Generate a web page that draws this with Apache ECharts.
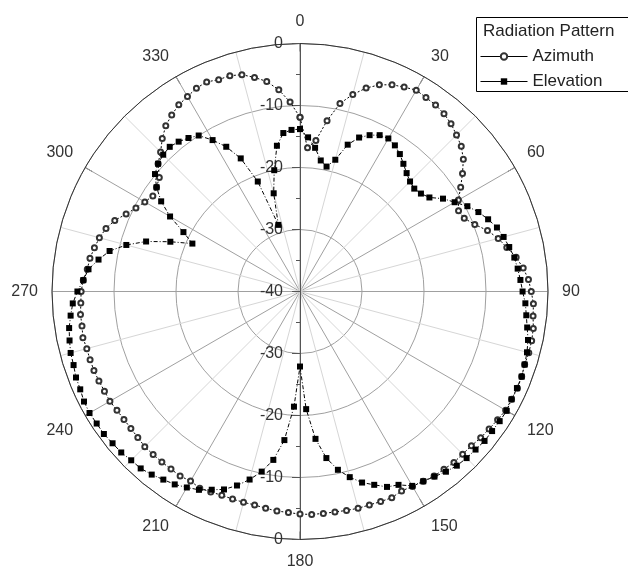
<!DOCTYPE html>
<html><head><meta charset="utf-8">
<script src="https://cdn.jsdelivr.net/npm/echarts/dist/echarts.min.js"></script>
<style>html,body{margin:0;padding:0;background:#fff}#c{width:628px;height:570px}</style>
</head><body><div id="c"></div>
<script>
// Angles (degrees) at which the pattern was sampled
const angles = [
  0,3,6,9,12,15,18,21,24,27,
  30,33,36,39,42,45,48,51,54,57,
  60,63,66,69,72,75,78,81,84,87,
  90,93,96,99,102,105,108,111,114,117,
  120,123,126,129,132,135,138,141,144,147,
  150,153,156,159,162,165,168,171,174,177,
  180,183,186,189,192,195,198,201,204,207,
  210,213,216,219,222,225,228,231,234,237,
  240,243,246,249,252,255,258,261,264,267,
  270,273,276,279,282,285,288,291,294,297,
  300,303,306,309,312,315,318,321,324,327,
  330,333,336,339,342,345,348,351,354,357
];
// Azimuth pattern (dB)
const azimuth = [
  -11.9,-16.8,-15.5,-12.1,-9.0,-7.1,-5.5,-4.3,-3.5,-3.0,
  -2.5,-2.7,-2.8,-3.1,-3.6,-4.3,-5.0,-6.1,-7.6,-9.1,
  -10.5,-11.3,-11.0,-9.8,-8.2,-6.9,-5.9,-4.7,-3.8,-3.1,
  -2.7,-2.3,-2.2,-1.9,-1.8,-1.8,-1.9,-1.7,-1.6,-1.7,
  -1.7,-2.0,-2.3,-2.5,-2.8,-2.9,-2.9,-3.1,-3.2,-3.5,
  -3.7,-3.9,-3.6,-3.7,-3.8,-3.8,-3.9,-4.0,-4.0,-4.0,
  -4.1,-4.3,-4.4,-4.6,-4.8,-4.8,-4.8,-4.8,-4.6,-4.4,
  -4.7,-4.5,-4.6,-4.6,-4.6,-4.6,-4.8,-4.9,-4.9,-4.8,
  -4.6,-4.6,-4.5,-4.4,-4.4,-4.4,-4.2,-4.4,-4.4,-4.6,
  -4.7,-5.0,-5.5,-5.7,-6.1,-6.5,-7.1,-8.0,-9.3,-10.3,
  -11.1,-11.7,-11.4,-10.8,-9.2,-8.2,-6.8,-5.6,-4.8,-4.1,
  -3.7,-3.2,-3.0,-3.4,-3.4,-3.8,-4.7,-5.7,-7.3,-9.4
];
// Elevation pattern (dB)
const elevation = [
  -13.8,-15.1,-16.7,-18.6,-19.4,-18.0,-15.1,-13.4,-12.4,-11.7,
  -11.5,-11.9,-12.6,-13.5,-14.3,-14.9,-15.2,-14.9,-14.2,-12.5,
  -11.2,-9.7,-8.5,-7.5,-6.6,-6.0,-5.5,-5.0,-4.7,-4.4,
  -4.1,-3.6,-3.3,-2.9,-2.4,-2.1,-1.9,-1.7,-1.7,-1.7,
  -1.5,-1.6,-1.7,-1.7,-1.9,-2.0,-2.2,-2.6,-3.1,-3.5,
  -3.8,-5.0,-5.5,-6.6,-7.6,-9.0,-10.6,-12.8,-16.1,-21.0,
  -27.9,-21.4,-15.9,-12.5,-10.3,-8.6,-7.1,-5.8,-5.0,-4.1,
  -3.5,-2.9,-2.5,-2.0,-1.6,-1.5,-1.2,-1.1,-0.9,-0.9,
  -0.8,-0.9,-1.2,-1.3,-1.6,-1.7,-2.0,-2.3,-2.8,-3.3,
  -4.1,-5.0,-5.7,-7.1,-8.6,-11.0,-13.9,-17.6,-21.0,-18.9,
  -15.8,-13.3,-11.4,-9.9,-9.2,-8.8,-8.6,-8.9,-9.4,-10.0,
  -11.8,-13.8,-16.5,-21.0,-28.7,-23.6,-20.0,-16.2,-14.3,-13.9
];
const seriesNames = ['Azimuth', 'Elevation'];
const legendTitle = 'Radiation Pattern';

function toPairs(vals) {
  const d = vals.map((v, i) => [v, angles[i]]);
  d.push([vals[0], 360]); // close the loop
  return d;
}

const FONT = 'Liberation Sans, Arial, sans-serif';
const center = [300, 291.5];
const R = 248;
const chart = echarts.init(document.getElementById('c'));
chart.setOption({
  animation: false,
  backgroundColor: '#fff',
  textStyle: { fontFamily: FONT },
  polar: [{ center: center, radius: R }, { center: center, radius: R }],
  angleAxis: [{
    polarIndex: 0, type: 'value', min: 0, max: 360, interval: 30,
    startAngle: 90, clockwise: true,
    axisLine: { show: true, lineStyle: { color: '#333', width: 1 } },
    axisTick: { show: true, inside: true, length: 8, lineStyle: { color: '#333' } },
    axisLabel: { margin: 14, fontSize: 16, color: '#333', fontFamily: FONT },
    splitLine: { show: true, lineStyle: { color: '#a0a0a0', width: 1 } },
    minorTick: { show: false, splitNumber: 2 },
    minorSplitLine: { show: true, lineStyle: { color: '#d6d6d6', width: 1 } }
  }, {
    polarIndex: 1, type: 'value', min: 0, max: 360, startAngle: 270, clockwise: true, show: false
  }],
  radiusAxis: [{
    polarIndex: 0, type: 'value', min: -40, max: 0, interval: 10,
    axisLine: { show: true, lineStyle: { color: '#555', width: 1 } },
    axisTick: { show: true, length: 8, lineStyle: { color: '#555' } },
    minorTick: { show: true, splitNumber: 2, length: 4, lineStyle: { color: '#555' } },
    axisLabel: { margin: 17, fontSize: 16, color: '#333', fontFamily: FONT },
    splitLine: { show: true, lineStyle: { color: '#a0a0a0', width: 1 } }
  }, {
    polarIndex: 1, type: 'value', min: -40, max: 0, interval: 10,
    axisLine: { show: true, lineStyle: { color: '#555', width: 1 } },
    axisTick: { show: true, length: -8, lineStyle: { color: '#555' } },
    minorTick: { show: true, splitNumber: 2, length: -4, lineStyle: { color: '#555' } },
    axisLabel: { margin: -17, align: 'right', fontSize: 16, color: '#333', fontFamily: FONT, showMinLabel: false },
    splitLine: { show: false }
  }],
  legend: {
    data: seriesNames, orient: 'vertical', left: 475, top: 43,
    itemWidth: 47, itemHeight: 8, itemGap: 8,
    textStyle: { fontSize: 17, color: '#222', fontFamily: FONT },
    lineStyle: { type: 'solid', width: 1 },
    z: 10
  },
  graphic: [
    { type: 'rect', z: 5, shape: { x: 476.5, y: 17.5, width: 170, height: 74 },
      style: { fill: '#fff', stroke: '#000', lineWidth: 1 } },
    { type: 'text', z: 10, left: 483, top: 23,
      style: { text: legendTitle, fontSize: 17, fill: '#222', fontFamily: FONT } }
  ],
  series: [{
    name: seriesNames[0], type: 'line', coordinateSystem: 'polar', polarIndex: 0,
    data: toPairs(azimuth), symbol: 'emptyCircle', symbolSize: 5,
    lineStyle: { color: '#000', width: 1, type: [2, 2] },
    itemStyle: { color: '#333', borderWidth: 0.8 }, z: 3
  }, {
    name: seriesNames[1], type: 'line', coordinateSystem: 'polar', polarIndex: 0,
    data: toPairs(elevation), symbol: 'rect', symbolSize: 6,
    lineStyle: { color: '#000', width: 1, type: [4, 2, 1, 2] },
    itemStyle: { color: '#000' }, z: 4
  }]
});
</script>
</body></html>
